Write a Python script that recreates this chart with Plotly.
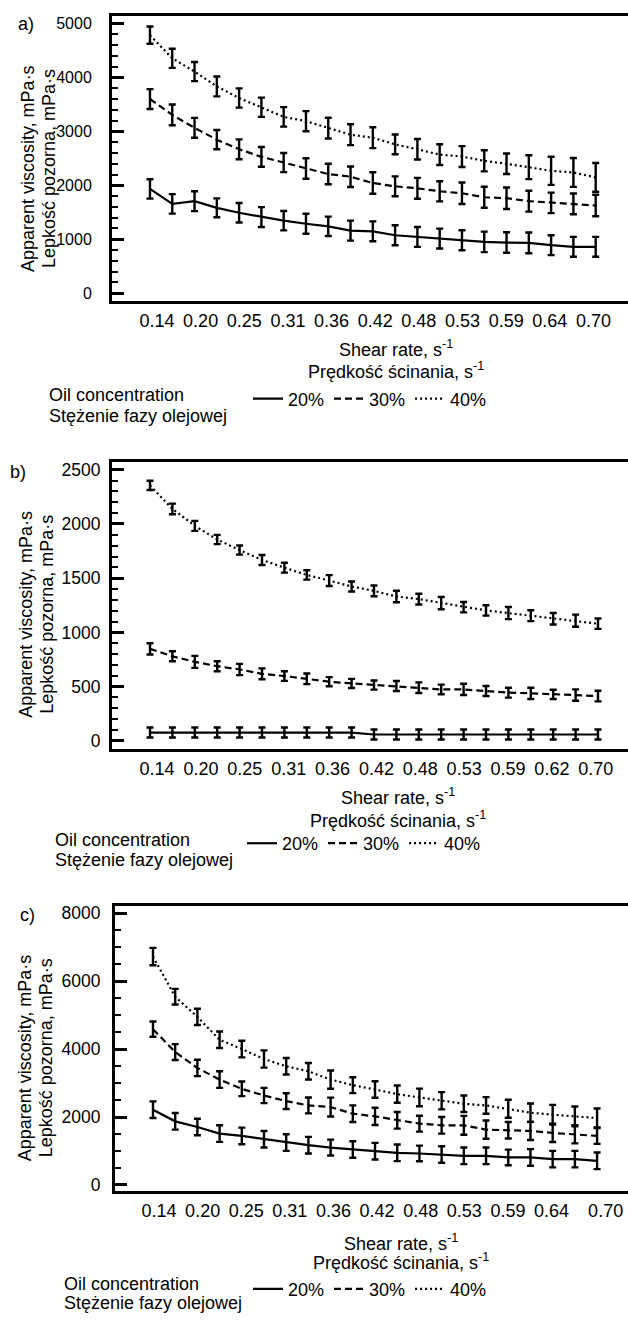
import plotly.graph_objects as go
import numpy as np

# ---------------- data ----------------
shear_rate = [0.140, 0.168, 0.196, 0.224, 0.252, 0.280, 0.308, 0.336, 0.364, 0.392, 0.420,
              0.448, 0.476, 0.504, 0.532, 0.560, 0.588, 0.616, 0.644, 0.672, 0.700]

series_names = ["20%", "30%", "40%"]

# panel a)
a_20 = [1933, 1656, 1706, 1583, 1491, 1411, 1344, 1288, 1239, 1160, 1147,
        1074, 1043, 1012, 982, 951, 939, 933, 890, 859, 859]
a_20_err = [180, 180, 185, 175, 180, 185, 180, 185, 180, 185, 185,
            185, 185, 185, 185, 190, 190, 193, 185, 185, 185]
a_30 = [3601, 3307, 3067, 2847, 2669, 2528, 2423, 2313, 2209, 2160, 2043,
        1982, 1945, 1890, 1853, 1779, 1761, 1706, 1675, 1656, 1626]
a_30_err = [184, 193, 184, 178, 184, 184, 178, 190, 190, 190, 199,
            184, 193, 187, 199, 196, 199, 193, 190, 193, 199]
a_40 = [4785, 4356, 4110, 3834, 3620, 3448, 3270, 3190, 3061, 2939, 2883,
        2760, 2669, 2570, 2534, 2454, 2399, 2337, 2270, 2239, 2147]
a_40_err = [160, 178, 178, 184, 178, 178, 181, 187, 193, 193, 193,
            184, 190, 193, 193, 196, 190, 221, 261, 267, 267]

# panel b)
b_20 = [76, 76, 76, 76, 76, 76, 76, 76, 76, 76, 58,
        58, 58, 58, 58, 58, 58, 58, 58, 58, 58]
b_20_err = [46, 46, 46, 46, 46, 46, 46, 46, 46, 46, 46,
            46, 46, 46, 46, 46, 46, 46, 46, 46, 46]
b_30 = [848, 780, 728, 688, 658, 618, 597, 572, 545, 529, 514,
        505, 490, 474, 474, 459, 444, 438, 428, 422, 413]
b_30_err = [52, 46, 55, 46, 52, 50, 44, 49, 42, 42, 42,
            46, 49, 44, 52, 46, 46, 52, 43, 52, 49]
b_40 = [2356, 2139, 1983, 1857, 1759, 1668, 1597, 1530, 1478, 1423, 1383,
        1331, 1307, 1270, 1233, 1203, 1178, 1154, 1126, 1108, 1080]
b_40_err = [43, 49, 46, 43, 42, 46, 46, 43, 50, 46, 50,
            53, 50, 56, 48, 48, 56, 50, 53, 56, 48]

# panel c)
c_20 = [2215, 1873, 1707, 1512, 1444, 1346, 1249, 1171, 1102, 1044, 995,
        946, 927, 898, 859, 859, 810, 810, 761, 761, 712]
c_20_err = [244, 244, 244, 244, 244, 244, 244, 244, 234, 244, 244,
            244, 230, 244, 244, 244, 230, 244, 244, 244, 244]
c_30 = [4585, 3912, 3444, 3102, 2829, 2634, 2468, 2341, 2293, 2098, 2020,
        1902, 1805, 1756, 1756, 1629, 1610, 1590, 1532, 1493, 1444]
c_30_err = [225, 234, 240, 244, 215, 225, 230, 234, 278, 244, 254,
            244, 234, 244, 278, 268, 244, 268, 268, 268, 234]
c_40 = [6722, 5541, 4946, 4273, 4000, 3707, 3493, 3346, 3102, 2937, 2810,
        2673, 2576, 2478, 2390, 2341, 2244, 2127, 2068, 2020, 1971]
c_40_err = [254, 230, 240, 244, 244, 254, 244, 244, 268, 234, 244,
            254, 259, 254, 244, 244, 264, 270, 290, 290, 280]

x_tick_text_a = ["0.14", "0.20", "0.25", "0.31", "0.36", "0.42", "0.48", "0.53", "0.59", "0.64", "0.70"]
x_tick_text_b = ["0.14", "0.20", "0.25", "0.31", "0.36", "0.42", "0.48", "0.53", "0.59", "0.62", "0.70"]
x_tick_text_c = ["0.14", "0.20", "0.25", "0.31", "0.36", "0.42", "0.48", "0.53", "0.59", "0.64", "0.70"]

# ---------------- layout helpers ----------------
W, H = 628, 1320
FONT = "Liberation Sans, Arial, sans-serif"

def px(x):
    return x / W

def py(y):
    return 1 - y / H

styles = [dict(dash="solid", width=2.2),
          dict(dash="7px,4px", width=2.2),
          dict(dash="2px,3px", width=2.2)]

panels = [
    dict(label="a)", ys=[a_20, a_30, a_40], errs=[a_20_err, a_30_err, a_40_err],
         box=(112, 13, 300), xr=[0.0923, 0.7406], yr=[-153, 5142], dtick=1000, minor=200,
         ticktext=x_tick_text_a, tickvals=list(np.linspace(0.1488, 0.6972, 11)),
         yfont=dict(family=FONT, size=16), ystand=14, xstand=1,
         lab=(26, 21), ytitle=(28, 49, 167), xtitle=(396, 347, 369),
         leg=(248, 398), oil=(47, 394, 415)),
    dict(label="b)", ys=[b_20, b_30, b_40], errs=[b_20_err, b_30_err, b_40_err],
         box=(112, 461, 750), xr=[0.0925, 0.7375], yr=[-76, 2576], dtick=500, minor=100,
         ticktext=x_tick_text_b, tickvals=list(np.linspace(0.1488, 0.6972, 11)),
         yfont=dict(family=FONT, size=17.5), ystand=5, xstand=1,
         lab=(18, 472), ytitle=(26, 47, 615), xtitle=(398, 798, 821),
         leg=(242, 845), oil=(53, 841, 862)),
    dict(label="c)", ys=[c_20, c_30, c_40], errs=[c_20_err, c_30_err, c_40_err],
         box=(115, 908, 1194), xr=[0.0921, 0.7390], yr=[-167, 8204], dtick=2000, minor=500,
         ticktext=x_tick_text_c,
         tickvals=list(np.linspace(0.1476, 0.6426, 10)) + [0.7108],
         yfont=dict(family=FONT, size=17.5), ystand=8, xstand=2,
         lab=(27, 917), ytitle=(25, 46, 1061), xtitle=(401, 1246, 1265),
         leg=(248, 1293), oil=(62, 1288, 1307)),
]

fig = go.Figure()
annotations = []
layout = dict(width=W, height=H, margin=dict(l=0, r=0, t=0, b=0),
              paper_bgcolor="white", plot_bgcolor="white",
              font=dict(family=FONT, size=18, color="black"), showlegend=True)

for i, p in enumerate(panels):
    n = i + 1
    xa = "x" if n == 1 else f"x{n}"
    ya = "y" if n == 1 else f"y{n}"
    leg = "legend" if n == 1 else f"legend{n}"
    left, top, bottom = p["box"]
    for k, (yv, ev) in enumerate(zip(p["ys"], p["errs"])):
        fig.add_trace(go.Scatter(
            x=shear_rate, y=yv, mode="lines", name=series_names[k],
            xaxis=xa, yaxis=ya, legend=leg,
            line=dict(color="black", **styles[k]),
            error_y=dict(type="data", array=ev, visible=True, color="black",
                         thickness=2.4, width=3.5),
        ))
    xkey = "xaxis" if n == 1 else f"xaxis{n}"
    ykey = "yaxis" if n == 1 else f"yaxis{n}"
    layout[xkey] = dict(domain=[px(left), 1], anchor=ya, range=p["xr"],
                        showline=True, linewidth=3, linecolor="black", mirror=True,
                        showgrid=False, zeroline=False, ticks="",
                        tickmode="array", tickvals=p["tickvals"], ticktext=p["ticktext"],
                        tickfont=dict(family=FONT, size=18), ticklabelstandoff=p["xstand"])
    layout[ykey] = dict(domain=[py(bottom), py(top)], anchor=xa, range=p["yr"],
                        showline=True, linewidth=3, linecolor="black",
                        showgrid=False, zeroline=False,
                        ticks="inside", ticklen=12, tickwidth=2.5, tickcolor="black",
                        dtick=p["dtick"], tick0=0, tickfont=p["yfont"],
                        ticklabelstandoff=p["ystand"],
                        minor=dict(dtick=p["minor"], tick0=0, ticks="inside", ticklen=6,
                                   tickwidth=2, tickcolor="black"))
    layout[f"yaxis{n + 3}"] = dict(overlaying=ya, anchor=xa, side="right", range=p["yr"],
                                   showline=False, showgrid=False, zeroline=False,
                                   showticklabels=False,
                                   ticks="inside", ticklen=6, tickwidth=2.5, tickcolor="black",
                                   dtick=p["dtick"], tick0=0,
                                   minor=dict(dtick=p["minor"], tick0=0, ticks="inside",
                                              ticklen=2, tickwidth=2, tickcolor="black"))
    layout[leg] = dict(orientation="h", x=px(p["leg"][0]), y=py(p["leg"][1]),
                       xanchor="left", yanchor="middle", bgcolor="rgba(0,0,0,0)",
                       font=dict(family=FONT, size=18), itemwidth=30,
                       tracegroupgap=0, traceorder="normal")

    def ann(text, x, y, **kw):
        d = dict(text=text, x=px(x), y=py(y), xref="paper", yref="paper",
                 xanchor="center", yanchor="middle",
                 showarrow=False, font=dict(family=FONT, size=18, color="black"))
        d.update(kw)
        annotations.append(d)

    ann(p["label"], p["lab"][0], p["lab"][1])
    ann("Apparent viscosity, mPa·s", p["ytitle"][0], p["ytitle"][2], textangle=-90)
    ann("Lepkość pozorna, mPa·s", p["ytitle"][1], p["ytitle"][2], textangle=-90)
    ann("Shear rate, s<sup>-1</sup>", p["xtitle"][0], p["xtitle"][1])
    ann("Prędkość ścinania, s<sup>-1</sup>", p["xtitle"][0], p["xtitle"][2])
    ann("Oil concentration", p["oil"][0], p["oil"][1], xanchor="left")
    ann("Stężenie fazy olejowej", p["oil"][0], p["oil"][2], xanchor="left")

layout["annotations"] = annotations
fig.update_layout(**layout)
fig.write_html("out.html", config={"displayModeBar": False},
               post_script="document.body.style.margin='0';document.body.style.padding='0';")
